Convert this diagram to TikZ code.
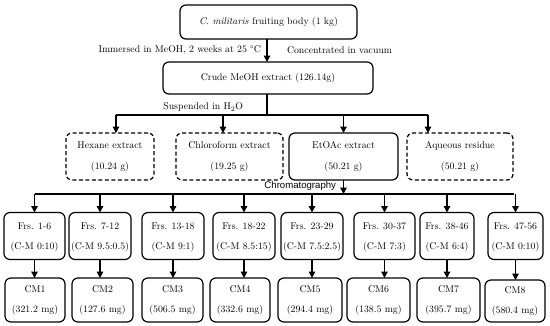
\documentclass[tikz,border=0pt]{standalone}
\usepackage{fontspec}
\newfontfamily\chromfont{Liberation Sans}
\usetikzlibrary{arrows.meta}
\begin{document}
\begin{tikzpicture}[x=1pt,y=-1pt,
  every node/.style={inner sep=0pt,outer sep=0pt},
  txt/.style={font=\fontsize{9.8}{11}\selectfont},
  box/.style={draw,line width=1.2pt,rounded corners=6pt,align=center,
    font=\fontsize{9.8}{11}\selectfont},
  dbox/.style={box,dash pattern=on 4pt off 2.5pt},
  link/.style={line width=1.4pt},
  arr/.style={line width=1.4pt,-{Triangle[length=6.5pt,width=6.5pt]}}]
\useasboundingbox (0,0) rectangle (550,325);
% top
\node[box,minimum width=177pt,minimum height=34pt] (top) at (268.5,22) {\textit{C. militaris} fruiting body (1 kg)};
\node[box,minimum width=210pt,minimum height=32pt] (crude) at (268,78) {Crude MeOH extract (126.14g)};
\draw[arr] (top.south -| 267,0) -- (crude.north -| 267,0);
\node[txt,anchor=east] (imm) at (261,50) {Immersed in MeOH, 2 weeks at 25 °C};
\node[txt,anchor=west] (conc) at (287,50) {Concentrated in vacuum};
\node[txt,anchor=east] (susp) at (243,107) {Suspended in H$_2$O};
% row 2
\begin{scope}[every node/.append style={minimum height=47pt}]
\node[dbox,minimum width=88pt] (hex) at (110,156.5) {Hexane extract\\[10pt](10.24 g)};
\node[dbox,minimum width=107pt] (chl) at (229.5,156.5) {Chloroform extract\\[10pt](19.25 g)};
\node[box,minimum width=109pt] (et) at (343.5,156.5) {EtOAc extract\\[10pt](50.21 g)};
\node[dbox,minimum width=106pt] (aq) at (460,156.5) {Aqueous residue\\[10pt](50.21 g)};
\end{scope}
\coordinate (s1) at (267,115);
\coordinate (sL) at (116,115);
\coordinate (sR) at (428,115);
\draw[link] (crude.south -| s1) -- (s1);
\draw[link] (sL) -- (sR);
\draw[arr] (sL) -- (hex.north -| sL);
\draw[arr] (223,115) -- (chl.north -| 223,0);
\draw[arr] (et.north |- sL) -- (et.north);
\draw[arr] (sR) -- (aq.north -| sR);
% chromatography
\node[anchor=east,font=\chromfont\fontsize{9.6}{12}\selectfont] (chrom) at (336,186) {Chromatography};
\coordinate (cL) at (35,194);
\coordinate (cR) at (514,194);
\draw[arr] (et.south) -- (et.south |- cL);
\draw[link] (cL) -- (cR);
% row 3
\begin{scope}[every node/.append style={minimum height=47pt,text depth=-2pt}]
\node[box,minimum width=61pt] (f1) at (34.5,236) {Frs. 1-6\\[9pt](C-M 0:10)};
\node[box,minimum width=62pt] (f2) at (100,236) {Frs. 7-12\\[9pt](C-M 9.5:0.5)};
\node[box,minimum width=62pt] (f3) at (173,236) {Frs. 13-18\\[9pt](C-M 9:1)};
\node[box,minimum width=62pt] (f4) at (244,236) {Frs. 18-22\\[9pt](C-M 8.5:15)};
\node[box,minimum width=62pt] (f5) at (312,236) {Frs. 23-29\\[9pt](C-M 7.5:2.5)};
\node[box,minimum width=61pt] (f6) at (384.5,236) {Frs. 30-37\\[9pt](C-M 7:3)};
\node[box,minimum width=54pt] (f7) at (447,236) {Frs. 38-46\\[9pt](C-M 6:4)};
\node[box,minimum width=55pt] (f8) at (515.5,236) {Frs. 47-56\\[9pt](C-M 0:10)};
\end{scope}
\begin{scope}[every node/.append style={minimum height=44pt}]
\node[box,minimum width=60pt] (c1) at (35,300) {CM1\\[9pt](321.2 mg)};
\node[box,minimum width=61pt] (c2) at (102.5,300) {CM2\\[9pt](127.6 mg)};
\node[box,minimum width=61pt] (c3) at (172.5,300) {CM3\\[9pt](506.5 mg)};
\node[box,minimum width=60pt] (c4) at (240,300) {CM4\\[9pt](332.6 mg)};
\node[box,minimum width=64pt] (c5) at (310,300) {CM5\\[9pt](294.4 mg)};
\node[box,minimum width=63pt] (c6) at (378.5,300) {CM6\\[9pt](138.5 mg)};
\node[box,minimum width=63pt] (c7) at (448.5,300) {CM7\\[9pt](395.7 mg)};
\node[box,minimum width=60pt,minimum height=42pt] (c8) at (515,301) {CM8\\[9pt](580.4 mg)};
\end{scope}
\foreach \i in {1,...,8} {
  \draw[arr] (f\i.north |- cL) -- (f\i.north);
  \draw[arr] (f\i.south) -- (f\i.south |- c\i.north);
}
\end{tikzpicture}
\end{document}
